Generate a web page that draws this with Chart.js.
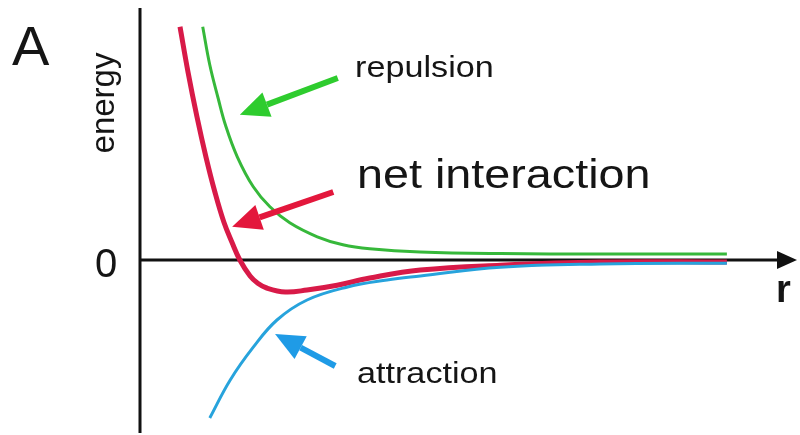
<!DOCTYPE html>
<html>
<head>
<meta charset="utf-8">
<script src="https://cdn.jsdelivr.net/npm/chart.js@4"></script>
<style>
  html, body { margin: 0; padding: 0; background: #fff; }
  canvas { display: block; }
</style>
</head>
<body>
<canvas id="chart" width="800" height="435"></canvas>
<script>
// distance r (arbitrary units) and energy values
const repulsionR = [0.98, 1.09, 1.22, 1.34, 1.52, 1.77, 2.03, 2.34, 2.77, 3.17, 3.59, 4.38, 5.63, 7.19, 9.17];
const repulsionE = [5.83, 4.88, 4.05, 3.35, 2.58, 1.83, 1.33, 0.93, 0.58, 0.38, 0.28, 0.2, 0.16, 0.15, 0.15];

const netR = [0.625, 0.75, 0.89, 1.03, 1.17, 1.31, 1.44, 1.56, 1.72, 1.84, 1.98, 2.27, 2.61, 3.08, 3.59, 4.38, 5.63, 7.19, 9.17];
const netE = [5.83, 4.7, 3.58, 2.58, 1.7, 0.95, 0.43, 0, -0.4, -0.58, -0.7, -0.8, -0.75, -0.63, -0.45, -0.25, -0.13, -0.05, -0.05];

const attractionR = [1.09, 1.41, 1.77, 2.14, 2.61, 3.23, 3.86, 4.38, 5.63, 7.19, 9.17];
const attractionE = [-3.95, -3.0, -2.18, -1.5, -1.0, -0.68, -0.5, -0.4, -0.18, -0.1, -0.08];

// labels and their arrows, in the same r / energy units
const labelNames = ["repulsion", "net interaction", "attraction"];
const labelPos = [[3.36, 4.58], [3.39, 1.8], [3.39, -3.08]];
const arrowTail = [[3.09, 4.55], [3.02, 1.7], [3.05, -2.65]];
const arrowTip = [[1.56, 3.63], [1.44, 0.83], [2.11, -1.85]];
const labelSizes = [30, 41, 30];
const arrowColors = ["#2ecc2e", "#e3173c", "#1f9be6"];

function toPoints(xs, ys) {
  return xs.map((x, i) => ({ x: x, y: ys[i] }));
}

function stretchedText(ctx, text, x, y, size) {
  ctx.save();
  ctx.font = size + "px 'Liberation Sans', Arial, sans-serif";
  ctx.translate(x, y);
  ctx.scale(1.14, 1);
  ctx.fillText(text, 0, 0);
  ctx.restore();
}

function drawArrow(ctx, x1, y1, x2, y2, color) {
  const ang = Math.atan2(y2 - y1, x2 - x1);
  const headLen = 29, headW = 13;
  const bx = x2 - headLen * Math.cos(ang);
  const by = y2 - headLen * Math.sin(ang);
  ctx.save();
  ctx.strokeStyle = color;
  ctx.fillStyle = color;
  ctx.lineWidth = 6;
  ctx.beginPath();
  ctx.moveTo(x1, y1);
  ctx.lineTo(bx, by);
  ctx.stroke();
  ctx.beginPath();
  ctx.moveTo(x2, y2);
  ctx.lineTo(bx + headW * Math.sin(ang), by - headW * Math.cos(ang));
  ctx.lineTo(bx - headW * Math.sin(ang), by + headW * Math.cos(ang));
  ctx.closePath();
  ctx.fill();
  ctx.restore();
}

// axes with arrow on r, drawn below the curves; labels and arrows on top
const axesPlugin = {
  id: "axes",
  beforeDatasetsDraw(chart) {
    const ctx = chart.ctx;
    const x0 = chart.scales.x.getPixelForValue(0);
    const y0 = chart.scales.y.getPixelForValue(0);
    ctx.save();
    ctx.strokeStyle = "#111";
    ctx.fillStyle = "#111";
    ctx.lineWidth = 3;
    ctx.beginPath();
    ctx.moveTo(x0, 8);
    ctx.lineTo(x0, 433);
    ctx.moveTo(x0, y0);
    ctx.lineTo(782, y0);
    ctx.stroke();
    ctx.beginPath();
    ctx.moveTo(797, y0);
    ctx.lineTo(777, y0 - 9);
    ctx.lineTo(777, y0 + 9);
    ctx.closePath();
    ctx.fill();

    ctx.textBaseline = "alphabetic";
    ctx.textAlign = "left";
    ctx.fillStyle = "#151515";
    ctx.font = "56px 'Liberation Sans', Arial, sans-serif";
    ctx.fillText("A", 12, 65);
    ctx.font = "40px 'Liberation Sans', Arial, sans-serif";
    ctx.fillText("0", x0 - 45, y0 + 17);
    ctx.font = "bold 38px 'Liberation Sans', Arial, sans-serif";
    ctx.fillText("r", 776, y0 + 42);

    ctx.translate(x0 - 26, 103);
    ctx.rotate(-Math.PI / 2);
    ctx.textAlign = "center";
    ctx.font = "33px 'Liberation Sans', Arial, sans-serif";
    ctx.fillText("energy", 0, 0);
    ctx.restore();
  },
  afterDatasetsDraw(chart) {
    const ctx = chart.ctx;
    const xs = chart.scales.x, ys = chart.scales.y;
    ctx.save();
    ctx.fillStyle = "#151515";
    ctx.textBaseline = "alphabetic";
    ctx.textAlign = "left";
    labelNames.forEach((name, i) => {
      drawArrow(ctx,
        xs.getPixelForValue(arrowTail[i][0]), ys.getPixelForValue(arrowTail[i][1]),
        xs.getPixelForValue(arrowTip[i][0]), ys.getPixelForValue(arrowTip[i][1]),
        arrowColors[i]);
      stretchedText(ctx, name,
        xs.getPixelForValue(labelPos[i][0]), ys.getPixelForValue(labelPos[i][1]),
        labelSizes[i]);
    });
    ctx.restore();
  }
};

const ctx = document.getElementById("chart").getContext("2d");
new Chart(ctx, {
  type: "line",
  data: {
    datasets: [
      {
        label: "repulsion",
        data: toPoints(repulsionR, repulsionE),
        borderColor: "#36b83a",
        borderWidth: 3,
      },
      {
        label: "attraction",
        data: toPoints(attractionR, attractionE),
        borderColor: "#27a3dc",
        borderWidth: 3,
      },
      {
        label: "net interaction",
        data: toPoints(netR, netE),
        borderColor: "#d81a48",
        borderWidth: 5,
      },
    ],
  },
  options: {
    responsive: false,
    animation: false,
    layout: { padding: { left: 140, right: 20, top: 5, bottom: 15 } },
    elements: {
      point: { radius: 0, hoverRadius: 0 },
      line: { tension: 0.4, fill: false, borderCapStyle: "butt" },
    },
    scales: {
      x: { type: "linear", min: 0, max: 10, display: false },
      y: { type: "linear", min: -4, max: 6.375, display: false },
    },
    plugins: {
      legend: { display: false },
      tooltip: { enabled: false },
    },
  },
  plugins: [axesPlugin],
});
</script>
</body>
</html>
